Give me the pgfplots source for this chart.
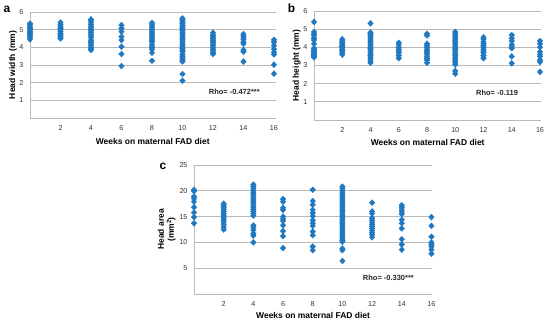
\documentclass[border=0pt]{standalone}
\usepackage{fontspec}
\setmainfont{Liberation Sans}
\usepackage{pgfplots}
\pgfplotsset{compat=1.18}
\usepackage{pgfplotstable}
\definecolor{ptblue}{RGB}{32,120,192}
\definecolor{gridgray}{RGB}{185,185,185}

\pgfplotstableread[row sep=\\]{
x y\\
0 4.45\\ 0 4.55\\ 0 4.6\\ 0 4.7\\ 0 4.8\\ 0 4.85\\ 0 4.9\\ 0 5.0\\ 0 5.05\\ 0 5.1\\ 0 5.2\\ 0 5.3\\ 0 5.35\\
2 4.5\\ 2 4.6\\ 2 4.7\\ 2 4.75\\ 2 4.8\\ 2 4.9\\ 2 5.0\\ 2 5.05\\ 2 5.1\\ 2 5.2\\ 2 5.3\\ 2 5.4\\
4 3.85\\ 4 3.95\\ 4 4.0\\ 4 4.1\\ 4 4.2\\ 4 4.3\\ 4 4.4\\ 4 4.55\\ 4 4.65\\ 4 4.75\\ 4 4.85\\ 4 4.95\\ 4 5.0\\ 4 5.1\\ 4 5.2\\ 4 5.3\\ 4 5.4\\ 4 5.5\\ 4 5.58\\
6 5.26\\ 6 5.08\\ 6 4.89\\ 6 4.6\\ 6 4.41\\ 6 4.03\\ 6 3.62\\ 6 2.94\\
8 5.39\\ 8 5.3\\ 8 5.2\\ 8 5.1\\ 8 5.0\\ 8 4.9\\ 8 4.8\\ 8 4.7\\ 8 4.6\\ 8 4.5\\ 8 4.4\\ 8 4.3\\ 8 4.15\\ 8 4.03\\ 8 3.89\\ 8 3.7\\ 8 3.24\\
10 5.64\\ 10 5.55\\ 10 5.45\\ 10 5.35\\ 10 5.25\\ 10 5.15\\ 10 5.05\\ 10 4.95\\ 10 4.85\\ 10 4.75\\ 10 4.65\\ 10 4.55\\ 10 4.45\\ 10 4.35\\ 10 4.25\\ 10 4.15\\ 10 4.05\\ 10 3.95\\ 10 3.85\\ 10 3.75\\ 10 3.6\\ 10 3.5\\ 10 3.4\\ 10 3.3\\ 10 3.2\\ 10 2.49\\ 10 2.11\\
12 4.83\\ 12 4.7\\ 12 4.6\\ 12 4.5\\ 12 4.4\\ 12 4.3\\ 12 4.2\\ 12 4.1\\ 12 4.0\\ 12 3.9\\ 12 3.8\\ 12 3.7\\ 12 3.62\\
14 4.75\\ 14 4.65\\ 14 4.55\\ 14 4.45\\ 14 4.3\\ 14 4.2\\ 14 3.85\\ 14 3.75\\ 14 3.19\\
16 4.43\\ 16 4.3\\ 16 4.1\\ 16 3.9\\ 16 3.72\\ 16 3.6\\ 16 3.02\\ 16 2.51\\
}\dataA

\pgfplotstableread[row sep=\\]{
x y\\
0 5.4\\ 0 4.85\\ 0 4.75\\ 0 4.65\\ 0 4.5\\ 0 4.4\\ 0 4.2\\ 0 3.95\\ 0 3.85\\ 0 3.8\\ 0 3.75\\ 0 3.7\\ 0 3.65\\ 0 3.6\\ 0 3.55\\ 0 3.5\\ 0 3.45\\
2 4.45\\ 2 4.35\\ 2 4.25\\ 2 4.2\\ 2 4.1\\ 2 4.05\\ 2 4.0\\ 2 3.9\\ 2 3.85\\ 2 3.8\\ 2 3.7\\ 2 3.6\\
4 5.32\\ 4 4.82\\ 4 4.75\\ 4 4.65\\ 4 4.55\\ 4 4.45\\ 4 4.35\\ 4 4.25\\ 4 4.15\\ 4 4.05\\ 4 3.95\\ 4 3.85\\ 4 3.75\\ 4 3.65\\ 4 3.55\\ 4 3.45\\ 4 3.35\\ 4 3.25\\ 4 3.15\\
6 4.25\\ 6 4.15\\ 6 4.0\\ 6 3.9\\ 6 3.8\\ 6 3.7\\ 6 3.55\\ 6 3.4\\
8 4.75\\ 8 4.65\\ 8 4.2\\ 8 4.1\\ 8 4.0\\ 8 3.9\\ 8 3.8\\ 8 3.7\\ 8 3.6\\ 8 3.5\\ 8 3.4\\ 8 3.3\\ 8 3.15\\
10 4.85\\ 10 4.75\\ 10 4.65\\ 10 4.55\\ 10 4.45\\ 10 4.35\\ 10 4.25\\ 10 4.15\\ 10 4.05\\ 10 3.95\\ 10 3.85\\ 10 3.75\\ 10 3.65\\ 10 3.55\\ 10 3.45\\ 10 3.35\\ 10 3.25\\ 10 3.15\\ 10 3.05\\ 10 2.7\\ 10 2.55\\
12 4.55\\ 12 4.45\\ 12 4.3\\ 12 4.2\\ 12 4.1\\ 12 4.0\\ 12 3.9\\ 12 3.8\\ 12 3.7\\ 12 3.55\\ 12 3.4\\
14 4.68\\ 14 4.5\\ 14 4.35\\ 14 4.15\\ 14 4.05\\ 14 3.95\\ 14 3.5\\ 14 3.12\\
16 4.35\\ 16 4.2\\ 16 4.0\\ 16 3.75\\ 16 3.6\\ 16 3.5\\ 16 3.3\\ 16 3.2\\ 16 2.65\\
}\dataB

\pgfplotstableread[row sep=\\]{
x y\\
0 20.2\\ 0 19.9\\ 0 18.9\\ 0 18.5\\ 0 17.9\\ 0 16.8\\ 0 15.8\\ 0 14.9\\ 0 13.7\\
2 17.5\\ 2 17.2\\ 2 16.8\\ 2 16.4\\ 2 16.0\\ 2 15.6\\ 2 15.2\\ 2 14.8\\ 2 14.4\\ 2 14.0\\ 2 13.5\\ 2 13.0\\ 2 12.5\\
4 21.2\\ 4 20.8\\ 4 20.4\\ 4 20.0\\ 4 19.6\\ 4 19.2\\ 4 18.8\\ 4 18.4\\ 4 18.0\\ 4 17.6\\ 4 17.2\\ 4 16.8\\ 4 16.4\\ 4 16.0\\ 4 15.6\\ 4 15.2\\ 4 13.3\\ 4 12.9\\ 4 12.4\\ 4 11.7\\ 4 11.3\\ 4 10.0\\
6 18.4\\ 6 17.9\\ 6 16.7\\ 6 16.3\\ 6 15.0\\ 6 14.6\\ 6 14.2\\ 6 13.3\\ 6 12.2\\ 6 11.2\\ 6 8.9\\
8 20.2\\ 8 18.0\\ 8 17.3\\ 8 16.3\\ 8 15.7\\ 8 15.1\\ 8 14.3\\ 8 13.7\\ 8 13.2\\ 8 12.1\\ 8 11.4\\ 8 9.2\\ 8 8.5\\
10 20.8\\ 10 20.4\\ 10 20.0\\ 10 19.6\\ 10 19.2\\ 10 18.8\\ 10 18.4\\ 10 18.0\\ 10 17.6\\ 10 17.2\\ 10 16.8\\ 10 16.4\\ 10 16.0\\ 10 15.6\\ 10 15.2\\ 10 14.8\\ 10 14.4\\ 10 14.0\\ 10 13.6\\ 10 13.2\\ 10 12.8\\ 10 12.4\\ 10 12.0\\ 10 11.6\\ 10 11.2\\ 10 10.8\\ 10 10.4\\ 10 10.1\\ 10 8.8\\ 10 8.5\\ 10 6.4\\
12 17.7\\ 12 16.0\\ 12 15.6\\ 12 14.7\\ 12 14.3\\ 12 13.9\\ 12 13.5\\ 12 13.1\\ 12 12.7\\ 12 12.3\\ 12 11.9\\ 12 11.5\\ 12 11.0\\
14 17.2\\ 14 16.8\\ 14 16.4\\ 14 16.0\\ 14 15.5\\ 14 14.4\\ 14 13.7\\ 14 12.7\\ 14 10.6\\ 14 9.6\\ 14 8.6\\
16 14.9\\ 16 13.2\\ 16 11.1\\ 16 10.0\\ 16 9.6\\ 16 9.2\\ 16 8.6\\ 16 7.8\\
}\dataC

\pgfplotsset{
  panel/.style={
    scale only axis, anchor=south west, clip=false,
    axis lines*=left,
    axis line style={gridgray, line width=0.9bp},
    ymajorgrids, grid style={gridgray, line width=0.9bp},
    major tick length=0pt,
    xmin=0, xtick={2,4,6,8,10,12,14,16},
    tick label style={font=\fontsize{7.2}{8}\selectfont, text=black!80},
    /pgf/number format/assume math mode=true,
    yticklabel style={xshift=-3bp},
    xticklabel style={yshift=-4bp},
    label style={font=\fontsize{8.5}{10}\selectfont\bfseries},
  },
  dots/.style={only marks, mark=diamond*, mark size=3bp,
    mark options={draw=ptblue, fill=ptblue, line width=0.3bp, xscale=1.25}},
}

\begin{document}
\begin{tikzpicture}
\useasboundingbox (0,0) rectangle (550bp,323bp);

\begin{axis}[panel, at={(30bp,205bp)}, width=245.5bp, height=106bp,
  xmax=16.1, ymin=0, ymax=6, ytick={1,2,3,4,5,6},
  xlabel={Weeks on maternal FAD diet}, ylabel={Head width (mm)},
  xlabel style={at={(axis description cs:0.5,-0.226)}, anchor=center},
  ylabel style={at={(axis description cs:-0.069,0.5)}, anchor=center}]
\addplot[dots] table {\dataA};
\node[font=\fontsize{7.5}{9}\selectfont\bfseries, text=black!85] at (axis cs:13.4,1.47) {Rho= -0.472***};
\end{axis}

\begin{axis}[panel, at={(314bp,203bp)}, width=227.4bp, height=109bp,
  xmax=16.1, ymin=0, ymax=6, ytick={1,2,3,4,5,6},
  xlabel={Weeks on maternal FAD diet}, ylabel={Head height (mm)},
  xlabel style={at={(axis description cs:0.5,-0.208)}, anchor=center},
  ylabel style={at={(axis description cs:-0.076,0.5)}, anchor=center}]
\addplot[dots] table {\dataB};
\node[font=\fontsize{7.5}{9}\selectfont\bfseries, text=black!85] at (axis cs:12.96,1.5) {Rho= -0.119};
\end{axis}

\begin{axis}[panel, at={(194bp,29bp)}, width=238.2bp, height=129bp,
  xmax=16.05, ymin=0, ymax=25, ytick={5,10,15,20,25},
  xlabel={Weeks on maternal FAD diet}, ylabel={Head area\\(mm\textsuperscript{2})},
  xlabel style={at={(axis description cs:0.5,-0.168)}, anchor=center},
  ylabel style={at={(axis description cs:-0.115,0.5)}, anchor=center, align=center}]
\addplot[dots] table {\dataC};
\node[font=\fontsize{7.5}{9}\selectfont\bfseries, text=black!85] at (axis cs:13.1,3.2) {Rho= -0.330***};
\end{axis}

\node[font=\fontsize{12}{14}\selectfont\bfseries] at (7bp,314bp) {a};
\node[font=\fontsize{12}{14}\selectfont\bfseries] at (291.5bp,314.5bp) {b};
\node[font=\fontsize{12}{14}\selectfont\bfseries] at (163bp,156.5bp) {c};
\end{tikzpicture}
\end{document}
